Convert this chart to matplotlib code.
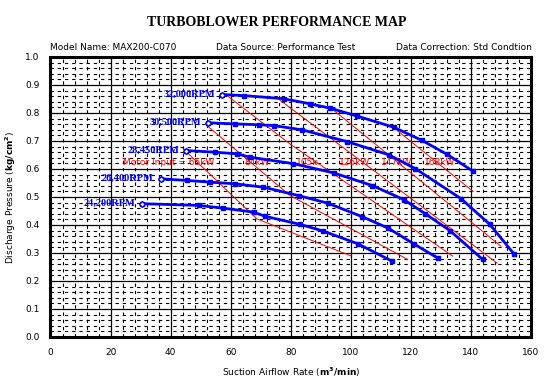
import numpy as np
import matplotlib.pyplot as plt
from matplotlib.ticker import MultipleLocator

# ---- data ----
rpm_labels = ["32,000RPM", "30,500RPM", "28,450RPM", "26,400RPM", "24,200RPM"]

q_32000 = [57.1, 64.5, 77.6, 86.3, 93.2, 102.1, 114.3, 123.7, 132.1, 140.7]
p_32000 = [0.866, 0.862, 0.851, 0.833, 0.817, 0.789, 0.749, 0.702, 0.652, 0.592]

q_30500 = [52.6, 61.5, 69.3, 74.3, 83.7, 98.7, 112.6, 121.5, 136.7, 146.3, 154.3]
p_30500 = [0.765, 0.761, 0.758, 0.755, 0.740, 0.698, 0.651, 0.601, 0.494, 0.402, 0.297]

q_28450 = [45.1, 54.8, 62.1, 66.5, 80.9, 94.3, 107.1, 117.6, 124.8, 133.0, 143.9]
p_28450 = [0.666, 0.660, 0.654, 0.642, 0.619, 0.586, 0.541, 0.491, 0.440, 0.380, 0.277]

q_26400 = [36.7, 45.4, 53.2, 61.5, 70.9, 82.6, 92.3, 103.7, 112.4, 120.9, 129.1]
p_26400 = [0.565, 0.559, 0.553, 0.547, 0.535, 0.505, 0.478, 0.430, 0.389, 0.333, 0.281]

q_24200 = [30.4, 49.3, 57.6, 67.6, 71.5, 83.2, 90.9, 102.3, 113.7]
p_24200 = [0.476, 0.470, 0.460, 0.446, 0.431, 0.402, 0.378, 0.333, 0.271]

# motor input (iso-power) lines
kw_labels = ["Motor Input = 65kW", "84kW", "105k", "126kW", "147kW", "168kW"]
kw_label_x = [24.3, 64.5, 81.8, 96.0, 110.0, 124.5]
kw_label_y = 0.624

q_65 = [44.2, 68.7, 100.0]
p_65 = [0.672, 0.422, 0.290]
q_84 = [52.1, 79.8, 118.9]
p_84 = [0.755, 0.505, 0.277]
q_105 = [58.7, 79.8, 133.9]
p_105 = [0.863, 0.689, 0.289]
q_126 = [75.9, 148.7]
p_126 = [0.850, 0.264]
q_147 = [93.7, 150.0]
p_147 = [0.815, 0.324]
q_168 = [115.4, 140.7]
p_168 = [0.738, 0.520]

curves = [(q_32000, p_32000), (q_30500, p_30500), (q_28450, p_28450),
          (q_26400, p_26400), (q_24200, p_24200)]
kw_lines = [(q_65, p_65), (q_84, p_84), (q_105, p_105),
            (q_126, p_126), (q_147, p_147), (q_168, p_168)]

fig = plt.figure(figsize=(5.53, 3.85), dpi=100)
ax = fig.add_axes([0.0913, 0.1247, 0.8689, 0.7273])

ax.set_xlim(0, 160)
ax.set_ylim(0, 1.0)
ax.xaxis.set_major_locator(MultipleLocator(20))
ax.yaxis.set_major_locator(MultipleLocator(0.1))
ax.xaxis.set_minor_locator(MultipleLocator(4))
ax.yaxis.set_minor_locator(MultipleLocator(0.02))
ax.grid(which='major', color='black', lw=0.9, ls='-')
ax.grid(which='minor', color='black', lw=0.8, ls=(0, (3, 3.5)))
ax.set_axisbelow(True)
ax.tick_params(which='both', length=0, labelsize=6.5, pad=8)
ax.yaxis.set_major_formatter(plt.FuncFormatter(lambda v, p: "%.1f" % v))
for s in ax.spines.values():
    s.set_linewidth(2.2)

# power lines
for q, p in kw_lines:
    ax.plot(q, p, color='red', lw=0.7, zorder=3)
for txt, x in zip(kw_labels, kw_label_x):
    ax.text(x, kw_label_y, txt, color='red', fontsize=6.5, va='center', ha='left')

# speed curves
for (q, p), lab in zip(curves, rpm_labels):
    ax.plot(q, p, color='blue', lw=2.0, marker='s', markersize=2.5, zorder=4)
    ax.plot(q[0], p[0], color='blue', marker='D', markersize=3, mfc='white', zorder=5)
    ax.text(q[0] - 2.3, p[0], lab, color='blue', fontsize=7.5, fontweight='bold',
            family='Liberation Serif', ha='right', va='center')

fig.text(0.5, 0.942, "TURBOBLOWER PERFORMANCE MAP", ha='center', va='center',
         fontsize=10, fontweight='bold', family='Liberation Serif')
fig.text(0.09, 0.877, "Model Name: MAX200-C070", fontsize=6.5, va='center')
fig.text(0.39, 0.877, "Data Source: Performance Test", fontsize=6.5, va='center')
fig.text(0.962, 0.877, "Data Correction: Std Condtion", fontsize=6.5, va='center', ha='right')

ax.set_xlabel(r"Suction Airflow Rate ($\mathbf{m^3/min}$)", fontsize=6.5, labelpad=6)
ax.set_ylabel(r"Discharge Pressure ($\mathbf{kg/cm^2}$)", fontsize=6.5)
ax.yaxis.set_label_coords(-0.068, 0.5)

fig.savefig("out.png", dpi=100)
